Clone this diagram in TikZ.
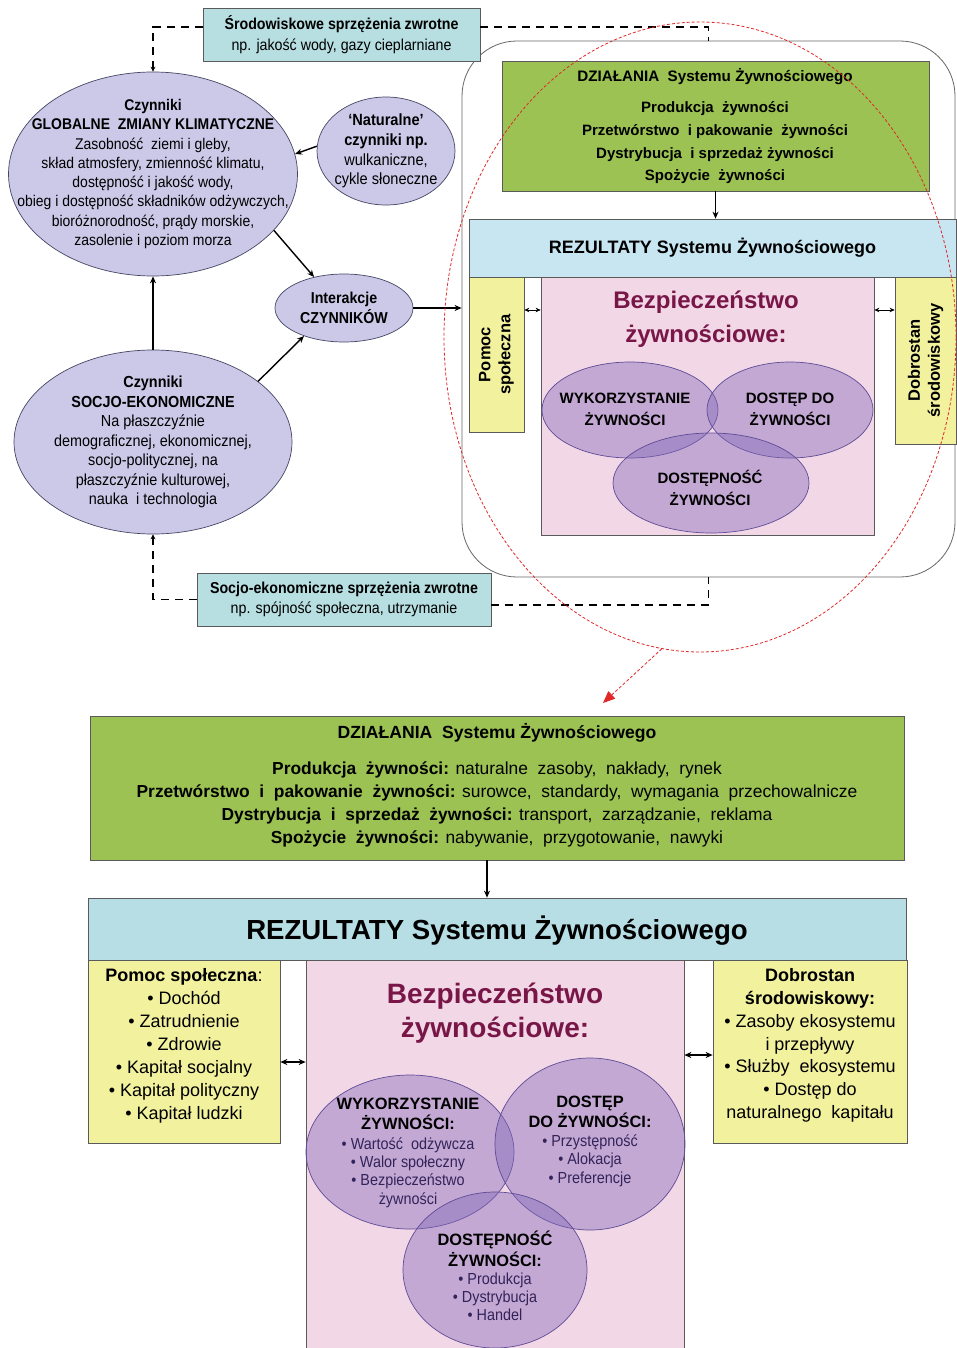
\documentclass[tikz,border=0pt]{standalone}
\usepackage{fontspec}
\setmainfont{Liberation Sans}
\newfontfamily\nar[FakeStretch=0.9]{Liberation Sans}
\usetikzlibrary{shapes.geometric,arrows.meta}
\definecolor{tealbox}{RGB}{183,222,224}
\definecolor{greenbox}{RGB}{155,194,83}
\definecolor{bluetop}{RGB}{200,230,242}
\definecolor{bluebot}{RGB}{183,222,228}
\definecolor{yellowbox}{RGB}{242,241,158}
\definecolor{pinkbox}{RGB}{242,215,230}
\definecolor{lav}{RGB}{204,200,232}
\definecolor{lavline}{RGB}{70,70,100}
\definecolor{vennfill}{RGB}{130,105,185}
\definecolor{vennline}{RGB}{95,75,150}
\definecolor{maroonc}{RGB}{120,22,72}
\definecolor{redc}{RGB}{225,40,40}
\definecolor{boxline}{RGB}{90,90,90}
\definecolor{bullettxt}{RGB}{50,35,90}
\newcommand{\fsz}[2]{\fontsize{#1}{#2}\selectfont}
\begin{document}
\begin{tikzpicture}[x=1pt,y=-1pt,
  lel/.style={ellipse, draw=lavline, fill=lav, line width=0.7pt, inner sep=0pt},
  boxs/.style={rectangle, draw=boxline, line width=0.7pt, inner sep=0pt},
  venn/.style={ellipse, draw=vennline, fill=vennfill, fill opacity=0.42, line width=0.7pt, inner sep=0pt},
  txt/.style={align=center, inner sep=0pt},
  arr/.style={-{Stealth[length=7pt,width=6pt]}, line width=1.4pt},
  fbline/.style={dash pattern=on 8pt off 6pt, line width=1.4pt},
  fbarr/.style={fbline, -{Stealth[length=5pt,width=5pt]}},
  dbl/.style={{Stealth[length=5pt,width=4.5pt]}-{Stealth[length=5pt,width=4.5pt]}, line width=0.9pt},
  bigdbl/.style={{Stealth[length=7pt,width=6pt]}-{Stealth[length=7pt,width=6pt]}, line width=1.3pt},
]
\useasboundingbox (0,0) rectangle (957,1348);
\fill[white] (0,0) rectangle (957,1348);

% ---------- top part ----------
\node[draw=black!60, line width=0.8pt, rounded corners=55pt, minimum width=493pt, minimum height=536pt, inner sep=0pt] (big) at (708.5,309) {};
\node[boxs, fill=tealbox, minimum width=277pt, minimum height=53pt] (envfb) at (341.5,34.5) {};
\node[boxs, fill=tealbox, minimum width=294pt, minimum height=53pt] (socfb) at (344,599.5) {};

\node[lel, minimum width=289pt, minimum height=204pt] (glob) at (153,174) {};
\node[lel, minimum width=138pt, minimum height=108pt] (nat) at (386,151) {};
\node[lel, minimum width=138pt, minimum height=68pt] (inter) at (344,308) {};
\node[lel, minimum width=278pt, minimum height=184pt] (soc) at (153,442) {};

\node[boxs, fill=greenbox, minimum width=427pt, minimum height=130pt] (tgreen) at (715.5,126) {};
\node[boxs, fill=bluetop, minimum width=487pt, minimum height=58pt] (trez) at (712.5,248) {};
\node[boxs, fill=yellowbox, minimum width=55pt, minimum height=155pt] (tpom) at (496.5,354.5) {};
\node[boxs, fill=pinkbox, minimum width=333pt, minimum height=258pt] (tpink) at (707.5,406) {};
\node[boxs, fill=yellowbox, minimum width=61pt, minimum height=167pt] (tdob) at (925.5,360.5) {};

\node[venn, minimum width=176pt, minimum height=96pt] (twyk) at (630,410) {};
\node[venn, minimum width=166pt, minimum height=96pt] (tdost) at (790,410) {};
\node[venn, minimum width=196pt, minimum height=100pt] (tdostn) at (711,483) {};

% texts top
\node[txt, font=\nar\fsz{15.8}{21}] at (envfb) {\textbf{Środowiskowe sprzężenia zwrotne}\\np. jakość wody, gazy cieplarniane};
\node[txt, font=\nar\fsz{15.8}{20}] at (socfb) {\textbf{Socjo-ekonomiczne sprzężenia zwrotne}\\np. spójność społeczna, utrzymanie};
\node[txt, font=\nar\fsz{15.5}{19.3}] at (glob) {\textbf{Czynniki}\\\textbf{GLOBALNE\ \ ZMIANY KLIMATYCZNE}\\Zasobność\ \ ziemi i gleby,\\skład atmosfery, zmienność klimatu,\\dostępność i jakość wody,\\obieg i dostępność składników odżywczych,\\bioróżnorodność, prądy morskie,\\zasolenie i poziom morza};
\node[txt, font=\nar\fsz{16.2}{19.7}] at (nat) {\textbf{‘Naturalne’}\\\textbf{czynniki np.}\\wulkaniczne,\\cykle słoneczne};
\node[txt, font=\nar\bfseries\fsz{15.8}{20}] at (inter) {Interakcje\\CZYNNIKÓW};
\node[txt, font=\nar\fsz{16}{19.5}] at (soc) {\textbf{Czynniki}\\\textbf{SOCJO-EKONOMICZNE}\\Na płaszczyźnie\\demograficznej, ekonomicznej,\\socjo-politycznej, na\\płaszczyźnie kulturowej,\\nauka\ \ i technologia};

\node[txt, font=\bfseries\fsz{15.2}{17}] (tgtitle) at (715,77) {DZIAŁANIA\ \ Systemu Żywnościowego};
\node[txt, font=\bfseries\fsz{15}{22.7}] at (715,143) {Produkcja\ \ żywności\\Przetwórstwo\ \ i pakowanie\ \ żywności\\Dystrybucja\ \ i sprzedaż żywności\\Spożycie\ \ żywności};
\node[txt, font=\bfseries\fsz{18}{22}] at (trez) {REZULTATY Systemu Żywnościowego};
\node[txt, font=\bfseries\fsz{24}{34}, text=maroonc] at (706,319) {Bezpieczeństwo\\żywnościowe:};
\node[txt, font=\bfseries\fsz{16.5}{20}, rotate=90] at (tpom) {Pomoc\\społeczna};
\node[txt, font=\bfseries\fsz{16.5}{20}, rotate=90] at (tdob) {Dobrostan\\środowiskowy};
\node[txt, font=\bfseries\fsz{15}{22}] at (625,409) {WYKORZYSTANIE\\ŻYWNOŚCI};
\node[txt, font=\bfseries\fsz{15}{22}] at (790,409) {DOSTĘP\ DO\\ŻYWNOŚCI};
\node[txt, font=\bfseries\fsz{15}{22}] at (710,488) {DOSTĘPNOŚĆ\\ŻYWNOŚCI};

% connectors top
\coordinate (ydash) at (0,27);
\coordinate (ydash2) at (0,605);
\coordinate (ydbl) at (0,310);
\draw[fbarr] (envfb.west |- ydash) -| (glob.north);
\draw[fbline] (envfb.east |- ydash) -| (big.north);
\draw[fbarr] (socfb.west) -| (soc.south);
\draw[fbline] (socfb.east |- ydash2) -| (big.south);
\draw[arr] (nat.176) -- (glob.8);
\draw[arr] (glob.-25) -- (inter.134);
\draw[arr] (soc.30) -- (inter.215);
\draw[arr] (soc.north) -- (glob.south);
\draw[arr] (inter.east) -- (inter.east -| big.west);
\draw[arr] (tgreen.south) -- (tgreen.south |- trez.north);
\draw[dbl] (tpom.east |- ydbl) -- (tpink.west |- ydbl);
\draw[dbl] (tpink.east |- ydbl) -- (tdob.west |- ydbl);

% ---------- bottom part ----------
\node[boxs, fill=greenbox, minimum width=814pt, minimum height=144pt] (bgreen) at (497,788) {};
\node[boxs, fill=bluebot, minimum width=818pt, minimum height=62pt] (brez) at (497,929) {};
\node[boxs, fill=yellowbox, minimum width=192pt, minimum height=183pt] (bpom) at (184,1051.5) {};
\node[boxs, fill=pinkbox, minimum width=378pt, minimum height=392pt] (bpink) at (495,1156) {};
\node[boxs, fill=yellowbox, minimum width=194pt, minimum height=183pt] (bdob) at (810,1051.5) {};

\node[venn, minimum width=208pt, minimum height=154pt] (bwyk) at (410,1152) {};
\node[venn, minimum width=190pt, minimum height=172pt] (bdost) at (590,1144) {};
\node[venn, minimum width=184pt, minimum height=156pt] (bdostn) at (495,1270) {};

\node[txt, font=\bfseries\fsz{17.6}{20}] at (497,733) {DZIAŁANIA\ \ Systemu Żywnościowego};
\node[txt, font=\fsz{17.4}{23}] at (497,804.5) {\textbf{Produkcja\ \ żywności:} naturalne\ \ zasoby,\ \ nakłady,\ \ rynek\\\textbf{Przetwórstwo\ \ i\ \ pakowanie\ \ żywności:} surowce,\ \ standardy,\ \ wymagania\ \ przechowalnicze\\\textbf{Dystrybucja\ \ i\ \ sprzedaż\ \ żywności:} transport,\ \ zarządzanie,\ \ reklama\\\textbf{Spożycie\ \ żywności:} nabywanie,\ \ przygotowanie,\ \ nawyki};
\node[txt, font=\bfseries\fsz{27.6}{30}] at (497,931) {REZULTATY Systemu Żywnościowego};
\node[txt, font=\fsz{18}{23}] at (184,1046) {\textbf{Pomoc społeczna}:\\• Dochód\\• Zatrudnienie\\• Zdrowie\\• Kapitał socjalny\\• Kapitał polityczny\\• Kapitał ludzki};
\node[txt, font=\fsz{18}{22.8}] at (810,1045.5) {\textbf{Dobrostan}\\\textbf{środowiskowy:}\\• Zasoby ekosystemu\\i przepływy\\• Służby\ \ ekosystemu\\• Dostęp do\\naturalnego\ \ kapitału};
\node[txt, font=\bfseries\fsz{28}{34}, text=maroonc] at (495,1013) {Bezpieczeństwo\\żywnościowe:};

\node[txt, font=\bfseries\fsz{16.4}{20}] at (408,1114) {WYKORZYSTANIE\\ŻYWNOŚCI:};
\node[txt, font=\nar\fsz{16}{18.4}, text=bullettxt] at (408,1172.5) {• Wartość\ \ odżywcza\\• Walor społeczny\\• Bezpieczeństwo\\żywności};
\node[txt, font=\bfseries\fsz{16.4}{20}] at (590,1112) {DOSTĘP\\DO ŻYWNOŚCI:};
\node[txt, font=\nar\fsz{16}{18.5}, text=bullettxt] at (590,1160.5) {• Przystępność\\• Alokacja\\• Preferencje};
\node[txt, font=\bfseries\fsz{16.4}{21}] at (495,1248.5) {DOSTĘPNOŚĆ\\ŻYWNOŚCI:};
\node[txt, font=\nar\fsz{16}{18}, text=bullettxt] at (495,1297) {• Produkcja\\• Dystrybucja\\• Handel};

\draw[arr] ([xshift=-10pt]bgreen.south) -- ([xshift=-10pt]bgreen.south |- brez.north);
\coordinate (ybl) at (0,1062);
\coordinate (ybr) at (0,1055);
\draw[bigdbl] (bpom.east |- ybl) -- (bpink.west |- ybl);
\draw[bigdbl] (bpink.east |- ybr) -- (bdob.west |- ybr);

% ---------- red highlight ----------
\node[ellipse, draw=redc, dash pattern=on 3pt off 2pt, line width=0.8pt, minimum width=512pt, minimum height=630pt, inner sep=0pt] (redell) at (700,337) {};
\coordinate (redtip) at (603,703);
\draw[redc, dash pattern=on 3pt off 2pt, line width=0.8pt, -{Triangle[length=12pt,width=10pt]}] (redell.-97) -- (redtip);
\end{tikzpicture}
\end{document}
